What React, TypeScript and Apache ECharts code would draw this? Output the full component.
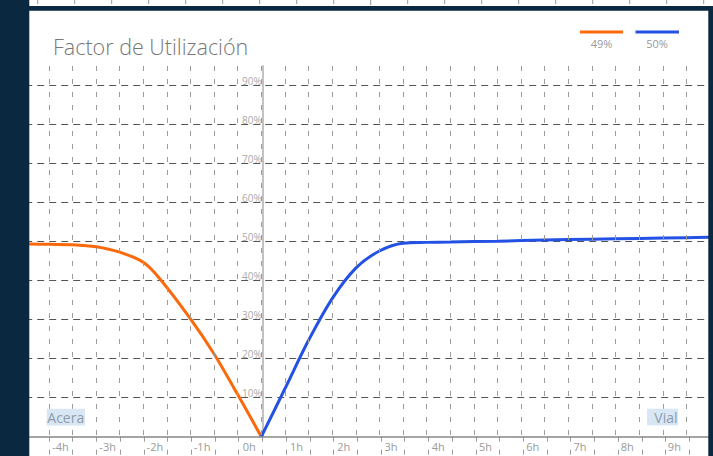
import React, { useEffect, useRef } from "react";
import * as echarts from "echarts";

// ---- data (hours, utilisation %) ----
const aceraName = "49%";
const vialName = "50%";
const aceraHours = [-4.92, -4.5, -4, -3.5, -3, -2.5, -2.15, -1.5, -1, -0.5, 0];
const aceraValues = [49.4, 49.3, 49.2, 48.7, 47.3, 44.7, 40.5, 30.2, 21.2, 10.8, 0];
const vialHours = [0, 0.5, 1, 1.5, 2, 2.5, 3, 3.5, 4, 5, 6, 7, 8, 9, 9.5];
const vialValues = [0, 12.3, 24.7, 35.4, 43.2, 47.6, 49.6, 49.8, 49.9, 50.1, 50.4, 50.6, 50.8, 51, 51.1];
const xTickHours = [-4, -3, -2, -1, 0, 1, 2, 3, 4, 5, 6, 7, 8, 9];
const yTickPercents = [10, 20, 30, 40, 50, 60, 70, 80, 90];
const titleText = "Factor de Utilización";
const leftTag = "Acera";
const rightTag = "Vial";

const ORANGE = "#fa6a0c";
const BLUE = "#2351e4";
const NAVY = "#0a2840";

const GRID_LEFT = 25.2;
const GRID_WIDTH = 688.8;
const ZERO_X = 262.7;
const AXIS_Y = 436.7;

export default function App() {
  const ref = useRef<HTMLDivElement>(null);
  useEffect(() => {
    document.body.style.margin = "0";
    const chart = echarts.init(ref.current!, undefined, { renderer: "svg" });

    const topTicks: any[] = [];
    for (let i = 0; i < 19; i++) {
      const x = 37.7 + 37 * i;
      topTicks.push({
        type: "line",
        z: 100,
        shape: { x1: x, y1: 0, x2: x, y2: i === 9 ? 5 : 4 },
        style: { stroke: "#9a9a9a", lineWidth: 1 },
      });
    }

    const vSplit = {
      show: true,
      showMinLine: false,
      showMaxLine: false,
      lineStyle: { color: "#9c9c9c", type: [5, 8], width: 1 },
    };

    const option: any = {
      animation: false,
      backgroundColor: "#ffffff",
      grid: [
        { left: GRID_LEFT, top: 66, width: GRID_WIDTH, height: AXIS_Y - 66, containLabel: false },
        { left: GRID_LEFT, top: AXIS_Y, width: GRID_WIDTH, height: 456 - AXIS_Y, containLabel: false },
      ],
      xAxis: [
        {
          type: "value",
          gridIndex: 0,
          position: "bottom",
          min: -5,
          max: 9.5,
          interval: 0.5,
          axisLine: { onZero: false, lineStyle: { color: "#888", width: 1.5 } },
          axisTick: { show: false },
          axisLabel: {
            formatter: (v: number) => (xTickHours.includes(v) ? `${v}h` : ""),
            color: "#9a9a9a",
            fontSize: 11,
            fontFamily: "Open Sans",
            margin: 4,
            padding: [0, 24, 0, 0],
          },
          splitLine: vSplit,
          z: 5,
        },
        {
          type: "value",
          gridIndex: 1,
          min: -5,
          max: 9.5,
          interval: 0.5,
          axisLine: { show: false },
          axisTick: { show: false },
          axisLabel: { show: false },
          splitLine: vSplit,
        },
      ],
      yAxis: [
        {
          type: "value",
          gridIndex: 0,
          min: 0,
          max: 95,
          interval: 10,
          position: "left",
          offset: -(ZERO_X - GRID_LEFT),
          axisLine: { show: true, onZero: false, lineStyle: { color: "#c2c2c2", width: 2 } },
          axisTick: { show: false },
          axisLabel: {
            formatter: (v: number) => (yTickPercents.includes(v) ? `${v}%` : ""),
            color: "#aaa",
            fontSize: 10,
            fontFamily: "Open Sans",
            margin: 1,
            verticalAlign: "bottom",
          },
          splitLine: {
            show: true,
            showMinLine: false,
            showMaxLine: false,
            lineStyle: { color: "#555", type: [7, 5], width: 1 },
          },
        },
        {
          type: "value",
          gridIndex: 1,
          min: 0,
          max: 1,
          show: false,
          splitLine: { show: false },
        },
      ],
      series: [
        {
          type: "line",
          name: aceraName,
          xAxisIndex: 0,
          yAxisIndex: 0,
          data: aceraHours.map((h, i) => [h, aceraValues[i]]),
          smooth: 0.3,
          showSymbol: false,
          symbol: "none",
          lineStyle: { color: ORANGE, width: 3 },
          itemStyle: { color: ORANGE },
          z: 3,
        },
        {
          type: "line",
          name: vialName,
          xAxisIndex: 0,
          yAxisIndex: 0,
          data: vialHours.map((h, i) => [h, vialValues[i]]),
          smooth: 0.35,
          showSymbol: false,
          symbol: "none",
          lineStyle: { color: BLUE, width: 3 },
          itemStyle: { color: BLUE },
          z: 3,
        },
      ],
      graphic: [
        { type: "rect", z: 100, shape: { x: 0, y: 0, width: 29.3, height: 456 }, style: { fill: NAVY } },
        { type: "rect", z: 100, shape: { x: 0, y: 6, width: 713, height: 4.7 }, style: { fill: NAVY } },
        { type: "rect", z: 100, shape: { x: 708.3, y: 6, width: 5, height: 450 }, style: { fill: NAVY } },
        ...topTicks,
        {
          type: "text",
          z: 100,
          x: 53,
          y: 46,
          style: {
            text: titleText,
            fill: "#777",
            font: '300 21.5px "Open Sans"',
            verticalAlign: "middle",
            align: "left",
          },
        },
        { type: "rect", z: 100, shape: { x: 580, y: 30.5, width: 43, height: 3 }, style: { fill: ORANGE } },
        {
          type: "text",
          z: 100,
          x: 601.5,
          y: 43.5,
          style: { text: aceraName, fill: "#999", font: '11px "Open Sans"', align: "center", verticalAlign: "middle" },
        },
        { type: "rect", z: 100, shape: { x: 635.5, y: 30.5, width: 43.5, height: 3 }, style: { fill: BLUE } },
        {
          type: "text",
          z: 100,
          x: 657,
          y: 43.5,
          style: { text: vialName, fill: "#999", font: '11px "Open Sans"', align: "center", verticalAlign: "middle" },
        },
        { type: "rect", z: 100, shape: { x: 46.7, y: 408.7, width: 38.3, height: 16.7 }, style: { fill: "#d9e7f4" } },
        {
          type: "text",
          z: 101,
          x: 47.3,
          y: 417.5,
          style: { text: leftTag, fill: "#8d9bad", font: '14px "Open Sans"', align: "left", verticalAlign: "middle" },
        },
        { type: "rect", z: 100, shape: { x: 647, y: 408.7, width: 31, height: 16.7 }, style: { fill: "#d9e7f4" } },
        {
          type: "text",
          z: 101,
          x: 677.5,
          y: 417.5,
          style: { text: rightTag, fill: "#8d9bad", font: '14px "Open Sans"', align: "right", verticalAlign: "middle" },
        },
      ],
    };
    chart.setOption(option);
    return () => chart.dispose();
  }, []);
  return <div ref={ref} style={{ width: 713, height: 456 }} />;
}
